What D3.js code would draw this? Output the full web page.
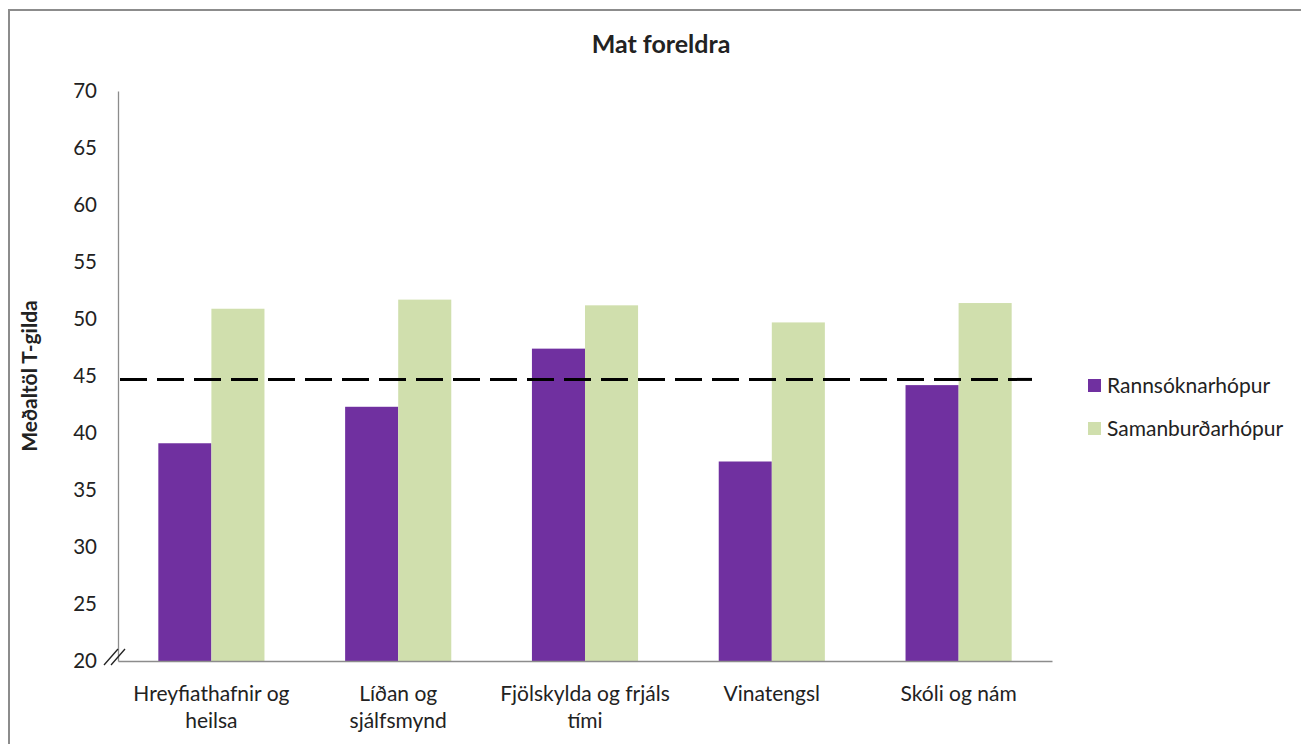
<!DOCTYPE html>
<html>
<head>
<meta charset="UTF-8">
<title>Mat foreldra</title>
<script src="https://cdn.jsdelivr.net/npm/d3@7"></script>
<style>
  body { margin: 0; background: #fff; }
  text { font-family: Lato, "Open Sans", sans-serif; fill: #222; }
</style>
</head>
<body>
<script>
// data
var categories = [
  ["Hreyfiathafnir og", "heilsa"],
  ["Líðan og", "sjálfsmynd"],
  ["Fjölskylda og frjáls", "tími"],
  ["Vinatengsl"],
  ["Skóli og nám"]
];
var seriesNames = ["Rannsóknarhópur", "Samanburðarhópur"];
var rannsokn = [39.1, 42.3, 47.4, 37.5, 44.2];
var samanburdur = [50.9, 51.7, 51.2, 49.7, 51.4];
var yTicks = [20, 25, 30, 35, 40, 45, 50, 55, 60, 65, 70];
var refLine = 44.7;
var colors = ["#7030a0", "#d0dfad"];

var width = 1301, height = 744;
var margin = {top: 91, left: 118, right: 249, bottom: 83};
var w = width - margin.left - margin.right,
    h = height - margin.top - margin.bottom;

var svg = d3.select("body").append("svg")
  .attr("width", width).attr("height", height);

// chart frame
svg.append("rect")
  .attr("x", 9).attr("y", 10).attr("width", 1310).attr("height", 760)
  .attr("fill", "none").attr("stroke", "#8c8c8c").attr("stroke-width", 2);

svg.append("text")
  .attr("x", 661).attr("y", 53)
  .attr("text-anchor", "middle")
  .style("font-size", "25px").style("font-weight", "bold")
  .text("Mat foreldra");

var g = svg.append("g")
  .attr("transform", "translate(" + margin.left + "," + margin.top + ")");

var keys = categories.map(function(c, i) { return i; });
var x0 = d3.scaleBand().domain(keys).range([0, w]).paddingInner(0).paddingOuter(0);
var x1 = d3.scaleBand().domain([0, 1]).range([0, x0.bandwidth()]).paddingInner(0).paddingOuter(0.76);
var y = d3.scaleLinear().domain([20, 70]).range([h, 0]);

var data = keys.map(function(i) { return [rannsokn[i], samanburdur[i]]; });

// bars
var groups = g.selectAll(".grp").data(data).enter().append("g")
  .attr("transform", function(d, i) { return "translate(" + x0(i) + ",0)"; });
groups.selectAll("rect").data(function(d) { return d; }).enter().append("rect")
  .attr("x", function(d, j) { return x1(j); })
  .attr("y", function(d) { return y(d); })
  .attr("width", x1.bandwidth())
  .attr("height", function(d) { return h - y(d); })
  .attr("fill", function(d, j) { return colors[j]; });

// y axis
var yAxis = g.append("g").call(d3.axisLeft(y).tickValues(yTicks).tickSize(0).tickPadding(21));
yAxis.select(".domain").attr("stroke", "#8c8c8c").attr("stroke-width", 1.3);
yAxis.selectAll("text").style("font-size", "20.5px").style("font-family", "Lato, sans-serif").attr("fill", "#333");

// x axis
var xAxis = g.append("g").attr("transform", "translate(0," + h + ")")
  .call(d3.axisBottom(x0).tickSize(0).tickFormat(""));
xAxis.select(".domain").attr("stroke", "#8c8c8c").attr("stroke-width", 1.5);

keys.forEach(function(i) {
  var t = g.append("text")
    .attr("x", x0(i) + x0.bandwidth() / 2)
    .attr("y", h + 40)
    .attr("text-anchor", "middle")
    .style("font-size", "21px").attr("fill", "#333");
  categories[i].forEach(function(line, k) {
    t.append("tspan").attr("x", x0(i) + x0.bandwidth() / 2).attr("dy", k ? 27 : 0).text(line);
  });
});

// axis break mark
[0, 7].forEach(function(off) {
  g.append("line")
    .attr("x1", -14 + off).attr("y1", y(20) + 4)
    .attr("x2", 0 + off).attr("y2", y(20) - 12)
    .attr("stroke", "#222").attr("stroke-width", 1.3);
});

// reference line
g.append("line")
  .attr("x1", 2).attr("x2", w - 20)
  .attr("y1", y(refLine)).attr("y2", y(refLine))
  .attr("stroke", "#000").attr("stroke-width", 3)
  .attr("stroke-dasharray", "27,10");

// y title
svg.append("text")
  .attr("transform", "translate(37," + (margin.top + y(45)) + ") rotate(-90)")
  .attr("text-anchor", "middle")
  .style("font-size", "21px").style("font-weight", "bold")
  .text("Meðaltöl T-gilda");

// legend
var leg = svg.append("g").attr("transform", "translate(1088,379)");
seriesNames.forEach(function(s, i) {
  leg.append("rect").attr("x", 0).attr("y", i * 43).attr("width", 13).attr("height", 13).attr("fill", colors[i]);
  leg.append("text").attr("x", 19).attr("y", i * 43 + 14)
    .style("font-size", "21px").attr("fill", "#333").text(s);
});
</script>
</body>
</html>
